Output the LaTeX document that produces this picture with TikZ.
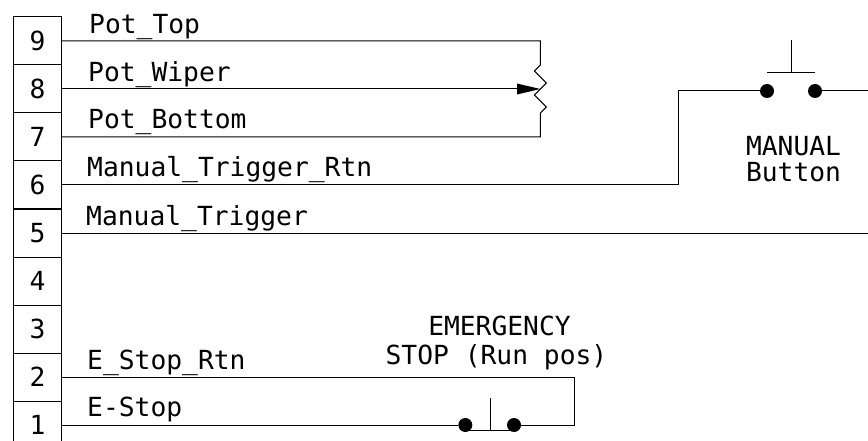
\documentclass[tikz,border=0pt]{standalone}
\usepackage{fontspec}
\setmonofont{DejaVu Sans Mono}
\tikzset{
  x=1pt,y=-1pt,
  wire/.style={draw=black,line width=1pt,line join=miter},
  pinbox/.style={draw=black,line width=1pt,minimum width=48pt,minimum height=48pt,inner sep=0pt,outer sep=0pt,font=\ttfamily\fontsize{26.3}{28}\selectfont},
  lbl/.style={anchor=base west,inner sep=0pt,font=\ttfamily\fontsize{26.3}{28}\selectfont},
  clbl/.style={anchor=base,inner sep=0pt,font=\ttfamily\fontsize{26.3}{28}\selectfont},
  contact/.style={circle,fill=black,draw=none,minimum size=14pt,inner sep=0pt,outer sep=0pt},
}
\begin{document}
\begin{tikzpicture}
\useasboundingbox (0,0) rectangle (868,441);
\clip (0,0) rectangle (868,441);
% terminal strip
\foreach \n/\y in {9/41,8/89,7/137,6/185,5/233,4/281,3/329,2/377,1/425}
  \node[pinbox] (r\n) at (37.5,\y) {\n};
% free-end coordinates
\coordinate (potT) at (540.3,41);
\coordinate (potB) at (540.3,137);
\coordinate (potR1) at (540.3,65);
\coordinate (potR2) at (534.3,71);
\coordinate (potR3) at (546.3,83);
\coordinate (potR4) at (534.3,95);
\coordinate (potR5) at (546.3,107);
\coordinate (potR6) at (540.3,113);
\coordinate (wiperTip) at (540.3,89);
\coordinate (wiperBase) at (517,89);
\coordinate (c6a) at (678,185);
\coordinate (c6b) at (678,91);
\coordinate (edgeR) at (868,91);
\coordinate (edge5) at (868,233);
\coordinate (c2a) at (574,377);
\coordinate (c2b) at (574,425);
% potentiometer
\draw[wire] (r9.east |- potT) -- (potT) -- (potR1) -- (potR2) -- (potR3) -- (potR4) -- (potR5) -- (potR6) -- (potB) -- (r7.east |- potB);
\draw[wire] (r8.east) -- (wiperBase);
\fill[black] (wiperTip) -- (517,83.5) -- (517,94.5) -- cycle;
% manual button
\node[contact] (mL) at (767,91) {};
\node[contact] (mR) at (815,91) {};
\coordinate (mBarL) at (767,72.3);
\coordinate (mBarR) at (815,72.3);
\coordinate (mStemT) at (791,40);
\coordinate (mStemB) at (791,72.3);
\draw[wire] (r6.east) -- (c6a) -- (c6b) -- (mL);
\draw[wire] (mR) -- (edgeR);
\draw[wire] (mBarL) -- (mBarR);
\draw[wire] (mStemT) -- (mStemB);
% manual trigger
\draw[wire] (r5.east) -- (edge5);
% e-stop
\node[contact] (eL) at (465.3,425) {};
\node[contact] (eR) at (514,425) {};
\coordinate (eBarL) at (465.3,430.7);
\coordinate (eBarR) at (514,430.7);
\coordinate (eStemT) at (490,398);
\coordinate (eStemB) at (490,430.7);
\draw[wire] (r2.east) -- (c2a) -- (c2b) -- (eR);
\draw[wire] (r1.east) -- (eL);
\draw[wire] (eBarL) -- (eBarR);
\draw[wire] (eStemT) -- (eStemB);
% labels
\node[lbl] (tPotTop) at (89,34) {Pot\_Top};
\node[lbl] (tPotWiper) at (88,81.5) {Pot\_Wiper};
\node[lbl] (tPotBottom) at (88,129) {Pot\_Bottom};
\node[lbl] (tRtn) at (87,177) {Manual\_Trigger\_Rtn};
\node[lbl] (tTrig) at (86,225.5) {Manual\_Trigger};
\node[lbl] (tEStopRtn) at (87,369.5) {E\_Stop\_Rtn};
\node[lbl] (tEStop) at (87,416.5) {E-Stop};
\node[clbl] (tEmerg) at (499.5,335) {EMERGENCY};
\node[clbl] (tStop) at (496.5,364) {STOP (Run pos)};
\node[clbl] (tManual) at (793.5,156) {MANUAL};
\node[clbl] (tButton) at (793.5,182) {Button};
\end{tikzpicture}
\end{document}
